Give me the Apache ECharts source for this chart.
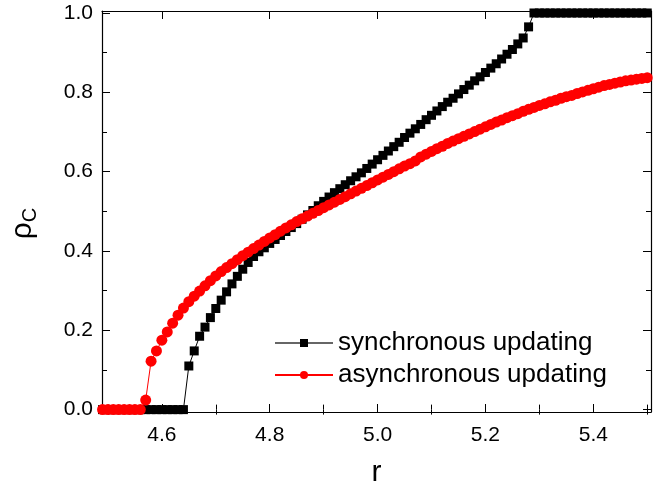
<!DOCTYPE html>
<html>
<head>
<meta charset="utf-8">
<script src="https://cdn.jsdelivr.net/npm/echarts@6/dist/echarts.min.js"></script>
<style>
html,body{margin:0;padding:0;background:#fff;}
#main{width:665px;height:493px;}
</style>
</head>
<body>
<div id="main"></div>
<script>
const rValues = [
4.49,4.50,4.51,4.52,4.53,4.54,4.55,4.56,4.57,4.58,4.59,
4.60,4.61,4.62,4.63,4.64,4.65,4.66,4.67,4.68,4.69,
4.70,4.71,4.72,4.73,4.74,4.75,4.76,4.77,4.78,4.79,
4.80,4.81,4.82,4.83,4.84,4.85,4.86,4.87,4.88,4.89,
4.90,4.91,4.92,4.93,4.94,4.95,4.96,4.97,4.98,4.99,
5.00,5.01,5.02,5.03,5.04,5.05,5.06,5.07,5.08,5.09,
5.10,5.11,5.12,5.13,5.14,5.15,5.16,5.17,5.18,5.19,
5.20,5.21,5.22,5.23,5.24,5.25,5.26,5.27,5.28,5.29,
5.30,5.31,5.32,5.33,5.34,5.35,5.36,5.37,5.38,5.39,
5.40,5.41,5.42,5.43,5.44,5.45,5.46,5.47,5.48,5.49,5.50
];
const syncValues = [
0,0,0,0,0,0,0,0,0,0,0,
0,0,0,0,0,0.110,0.148,0.185,0.208,0.232,
0.255,0.276,0.297,0.317,0.336,0.354,0.371,0.386,0.398,0.408,
0.419,0.429,0.439,0.449,0.459,0.469,0.480,0.491,0.502,0.514,
0.525,0.536,0.547,0.557,0.567,0.577,0.587,0.597,0.608,0.619,
0.630,0.641,0.652,0.663,0.674,0.686,0.697,0.708,0.719,0.731,
0.742,0.753,0.764,0.775,0.785,0.796,0.807,0.818,0.829,0.839,
0.850,0.861,0.872,0.884,0.896,0.908,0.922,0.937,0.965,1,
1,1,1,1,1,1,1,1,1,1,
1,1,1,1,1,1,1,1,1,1,1
];
const asyncValues = [
0,0,0,0,0,0,0,0,0.024,0.122,0.148,
0.175,0.196,0.218,0.238,0.256,0.272,0.286,0.299,0.312,0.325,
0.337,0.348,0.358,0.368,0.378,0.388,0.397,0.406,0.415,0.424,
0.433,0.441,0.450,0.458,0.466,0.474,0.481,0.488,0.495,0.502,
0.509,0.516,0.523,0.530,0.537,0.544,0.551,0.558,0.565,0.572,
0.579,0.586,0.593,0.600,0.607,0.614,0.620,0.627,0.637,0.644,
0.651,0.658,0.664,0.671,0.677,0.683,0.689,0.695,0.701,0.707,
0.713,0.719,0.725,0.730,0.736,0.741,0.746,0.752,0.757,0.762,
0.767,0.771,0.776,0.780,0.785,0.789,0.792,0.797,0.801,0.805,
0.809,0.813,0.817,0.820,0.823,0.826,0.829,0.831,0.833,0.835,0.837
];
const xMajorTicks = [4.6, 4.8, 5.0, 5.2, 5.4];
const xMinorTicks = [4.5, 4.7, 4.9, 5.1, 5.3, 5.5];
const yMajorTicks = [0.0, 0.2, 0.4, 0.6, 0.8, 1.0];
const yMinorTicks = [0.1, 0.3, 0.5, 0.7, 0.9];
const seriesNames = ['synchronous updating', 'asynchronous updating'];

const X_MIN = 4.489, X_MAX = 5.507, Y_MIN = -0.006, Y_MAX = 1.005;
const FONT = 'Liberation Sans';

function xAxisDef(opts) {
  return Object.assign({
    type: 'value', min: X_MIN, max: X_MAX,
    splitLine: {show: false},
    axisLine: {show: true, onZero: false, lineStyle: {color: '#000', width: 1.2}},
    axisTick: {show: true, inside: true, length: 8, lineStyle: {color: '#000', width: 1}, customValues: xMajorTicks},
    axisLabel: {show: false}
  }, opts);
}
function yAxisDef(opts) {
  return Object.assign({
    type: 'value', min: Y_MIN, max: Y_MAX,
    splitLine: {show: false},
    axisLine: {show: true, onZero: false, lineStyle: {color: '#000', width: 1.2}},
    axisTick: {show: true, inside: true, length: 8, lineStyle: {color: '#000', width: 1}, customValues: yMajorTicks},
    axisLabel: {show: false}
  }, opts);
}

const data1 = rValues.map((r, i) => [r, syncValues[i]]);
const data2 = rValues.map((r, i) => [r, asyncValues[i]]);

const chart = echarts.init(document.getElementById('main'), null, {renderer: 'canvas'});
chart.setOption({
  animation: false,
  backgroundColor: '#fff',
  grid: {left: 101, right: 14, top: 11, bottom: 77, containLabel: false},
  xAxis: [
    xAxisDef({position: 'bottom',
      name: 'r', nameLocation: 'middle', nameGap: 46,
      nameTextStyle: {fontFamily: FONT, fontSize: 30, color: '#000'},
      axisLabel: {show: true, customValues: xMajorTicks, margin: 13, fontFamily: FONT, fontSize: 21, color: '#000',
        formatter: v => v.toFixed(1)}}),
    xAxisDef({position: 'bottom', axisLine: {show: false},
      axisTick: {show: true, inside: true, length: 5, lineStyle: {color: '#000', width: 1}, customValues: xMinorTicks}}),
    xAxisDef({position: 'top'}),
    xAxisDef({position: 'top', axisLine: {show: false},
      axisTick: {show: true, inside: true, length: 5, lineStyle: {color: '#000', width: 1}, customValues: xMinorTicks}})
  ],
  yAxis: [
    yAxisDef({position: 'left',
      name: '{a|ρ}{b|C}', nameLocation: 'middle', nameGap: 62, nameRotate: 90,
      nameTextStyle: {fontFamily: FONT, color: '#000', padding: [0, 24, 0, 0],
        rich: {a: {fontFamily: FONT, fontSize: 30, color: '#000'},
               b: {fontFamily: FONT, fontSize: 20, color: '#000', padding: [14, 0, 0, 0]}}},
      axisLabel: {show: true, customValues: yMajorTicks, margin: 9, fontFamily: FONT, fontSize: 21, color: '#000',
        formatter: v => v.toFixed(1)}}),
    yAxisDef({position: 'left', axisLine: {show: false},
      axisTick: {show: true, inside: true, length: 5, lineStyle: {color: '#000', width: 1}, customValues: yMinorTicks}}),
    yAxisDef({position: 'right'}),
    yAxisDef({position: 'right', axisLine: {show: false},
      axisTick: {show: true, inside: true, length: 5, lineStyle: {color: '#000', width: 1}, customValues: yMinorTicks}})
  ],
  legend: {
    orient: 'vertical', left: 269, top: 325, itemGap: 6,
    itemWidth: 58, itemHeight: 10,
    textStyle: {fontFamily: FONT, fontSize: 26, color: '#000'},
    data: [
      {name: seriesNames[0], lineStyle: {color: '#666'}},
      {name: seriesNames[1]}
    ]
  },
  series: [
    {
      name: seriesNames[0], type: 'line', data: data1,
      xAxisIndex: 0, yAxisIndex: 0,
      symbol: 'rect', symbolSize: 9, showAllSymbol: true,
      lineStyle: {color: '#000', width: 1},
      itemStyle: {color: '#000'},
      clip: true, z: 2
    },
    {
      name: seriesNames[1], type: 'line', data: data2,
      xAxisIndex: 0, yAxisIndex: 0,
      symbol: 'circle', symbolSize: 11, showAllSymbol: true,
      lineStyle: {color: '#ff0000', width: 1},
      itemStyle: {color: '#ff0000'},
      clip: true, z: 3
    }
  ]
});
</script>
</body>
</html>
